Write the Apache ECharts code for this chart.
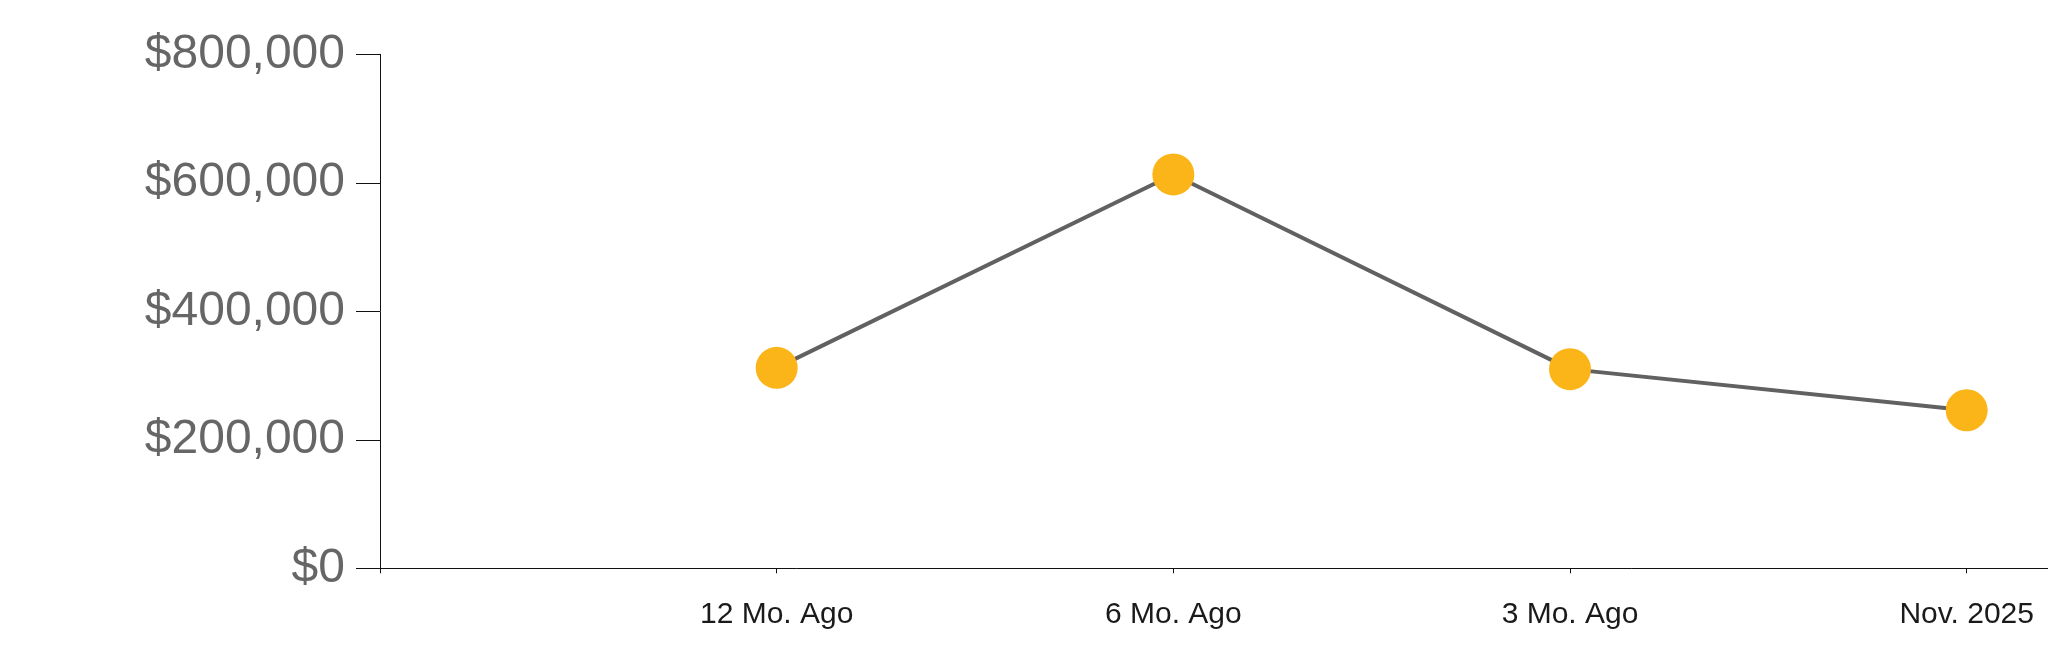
<!DOCTYPE html>
<html>
<head>
<meta charset="utf-8">
<script src="https://cdn.jsdelivr.net/npm/echarts@6/dist/echarts.min.js"></script>
<style>
html,body{margin:0;padding:0;background:#fff;}
#chart{width:2048px;height:663px;}
</style>
</head>
<body>
<div id="chart"></div>
<script>
const categories = ['12 Mo. Ago', '6 Mo. Ago', '3 Mo. Ago', 'Nov. 2025'];
const values = [312000, 613000, 310000, 246000];
const yTicks = [0, 200000, 400000, 600000, 800000];

const chart = echarts.init(document.getElementById('chart'), null, {renderer: 'canvas'});
const fmt = v => '$' + Math.round(v).toLocaleString('en-US');

chart.setOption({
  animation: false,
  backgroundColor: '#ffffff',
  grid: {left: 380, right: 0, top: 54.3, bottom: 94.7, containLabel: false},
  xAxis: {
    type: 'value',
    min: 0,
    max: 4.205,
    interval: 1,
    splitLine: {show: false},
    axisLine: {show: true, lineStyle: {color: '#111', width: 1}},
    axisTick: {show: true, length: 5, lineStyle: {color: '#111', width: 1}},
    axisLabel: {
      show: true,
      margin: 31,
      fontFamily: 'Liberation Sans, Arial, sans-serif',
      fontSize: 30,
      color: '#1a1a1a',
      showMaxLabel: false,
      formatter: v => (v >= 1 && Number.isInteger(v) && categories[v - 1]) ? categories[v - 1] : ''
    }
  },
  yAxis: {
    type: 'value',
    min: yTicks[0],
    max: yTicks[yTicks.length - 1],
    interval: yTicks[1] - yTicks[0],
    splitLine: {show: false},
    axisLine: {show: true, lineStyle: {color: '#111', width: 1}},
    axisTick: {show: true, length: 24, lineStyle: {color: '#111', width: 1}},
    axisLabel: {
      margin: 35,
      fontFamily: 'Liberation Sans, Arial, sans-serif',
      fontSize: 48,
      color: '#666666',
      formatter: fmt
    }
  },
  series: [{
    type: 'line',
    data: values.map((v, i) => [i + 1, v]),
    symbol: 'circle',
    symbolSize: 42,
    lineStyle: {color: '#616161', width: 4},
    itemStyle: {color: '#FBB519', borderWidth: 0},
    z: 3
  }]
});
</script>
</body>
</html>
